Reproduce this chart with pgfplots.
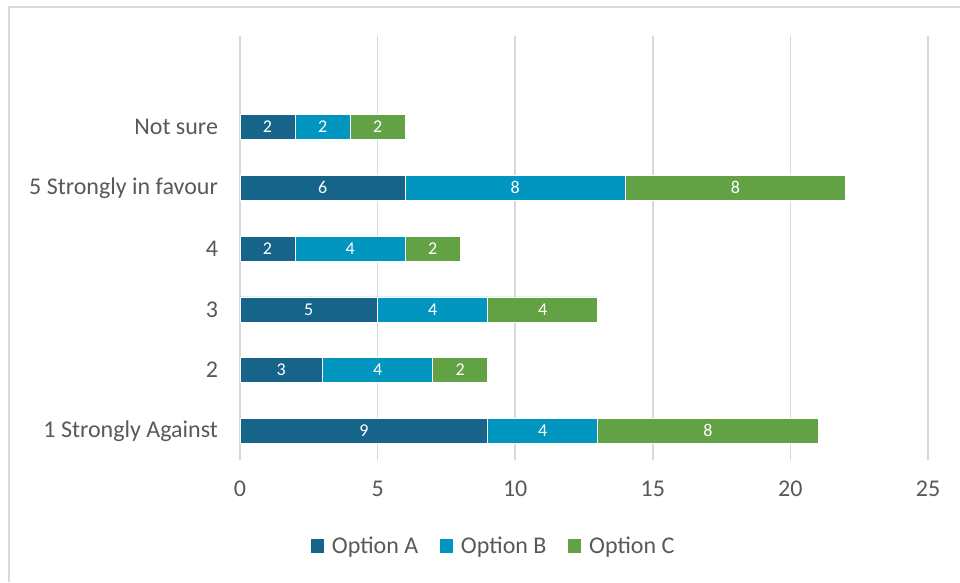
\documentclass[border=0pt]{standalone}
\usepackage{pgfplots}
\pgfplotsset{compat=1.18}
\usepackage{fontspec}
\setmainfont{Carlito}
\definecolor{optA}{HTML}{17648A}
\definecolor{optB}{HTML}{0096BF}
\definecolor{optC}{HTML}{62A144}
\definecolor{txt}{HTML}{595959}
\definecolor{grd}{HTML}{D9D9D9}
\begin{document}
\begin{tikzpicture}
\useasboundingbox (0,0) rectangle (720pt,436.5pt);
\fill[white] (0,0) rectangle (720pt,436.5pt);
\draw[grd, line width=1.2pt] (6.75pt,0) -- (6.75pt,431.25pt) -- (720pt,431.25pt);
\begin{axis}[
  at={(180pt,91.5pt)}, anchor=south west,
  scale only axis, width=516pt, height=318pt,
  xbar stacked, bar width=0.41,
  xmin=0, xmax=25, ymin=-0.48, ymax=6.5,
  xtick={0,5,...,25},
  ytick={0,...,5},
  yticklabels={1 Strongly Against,2,3,4,5 Strongly in favour,Not sure},
  axis line style={draw=none},
  major tick length=0pt,
  xmajorgrids, ymajorgrids=false,
  grid style={grd, line width=1.2pt},
  /pgf/number format/assume math mode=true,
  tick label style={font=\fontsize{18}{20}\selectfont, text=txt},
  xticklabel style={yshift=-12pt},
  yticklabel style={xshift=-13pt},
  legend style={draw=none, at={(0.369,-0.203)}, anchor=center, legend columns=3,
    font=\fontsize{18}{20}\selectfont, text=txt,
    /tikz/every odd column/.append style={column sep=4pt},
    /tikz/every even column/.append style={column sep=14pt}},
  legend image code/.code={\fill[#1,draw=none] (0pt,-5pt) rectangle (10pt,5pt);},
  legend cell align=left,
  clip=false,
]
\addplot[fill=optA, draw=white, line width=0.4pt] coordinates {(9,0) (3,1) (5,2) (2,3) (6,4) (2,5)};
\addplot[fill=optB, draw=white, line width=0.4pt] coordinates {(4,0) (4,1) (4,2) (4,3) (8,4) (2,5)};
\addplot[fill=optC, draw=white, line width=0.4pt] coordinates {(8,0) (2,1) (4,2) (2,3) (8,4) (2,5)};
\legend{Option A, Option B, Option C}
\end{axis}
\begin{axis}[
  at={(180pt,91.5pt)}, anchor=south west,
  scale only axis, width=516pt, height=318pt,
  xmin=0, xmax=25, ymin=-0.48, ymax=6.5,
  hide axis, clip=false,
  nodes near coords, point meta=explicit symbolic,
  nodes near coords align={center},
  every node near coord/.append style={text=white, font=\fontsize{13.5}{15}\selectfont, inner sep=0pt},
]
% label positions at segment centres
\addplot[draw=none, mark=none] coordinates {
 (4.5,0) [9] (1.5,1) [3] (2.5,2) [5] (1,3) [2] (3,4) [6] (1,5) [2]};
\addplot[draw=none, mark=none] coordinates {
 (11,0) [4] (5,1) [4] (7,2) [4] (4,3) [4] (10,4) [8] (3,5) [2]};
\addplot[draw=none, mark=none] coordinates {
 (17,0) [8] (8,1) [2] (11,2) [4] (7,3) [2] (18,4) [8] (5,5) [2]};
\end{axis}
\end{tikzpicture}
\end{document}
